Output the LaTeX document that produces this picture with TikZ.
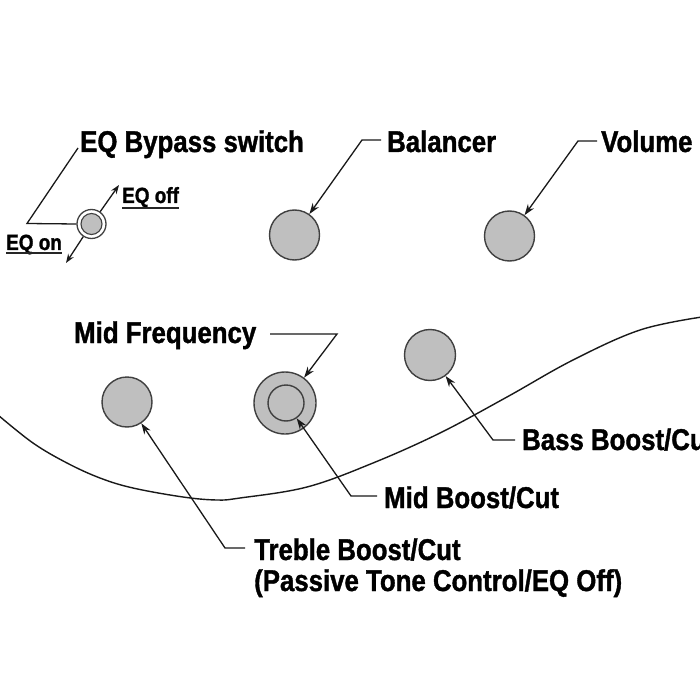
\documentclass[tikz,border=0pt]{standalone}
\usepackage{fontspec}
\setmainfont[FakeStretch=0.86,BoldFeatures={FakeBold=1.2}]{Liberation Sans}
\usetikzlibrary{arrows.meta}
\begin{document}
\begin{tikzpicture}[x=1pt,y=-1pt,
  lbl/.style={font=\bfseries\fontsize{30}{31}\selectfont,anchor=base west,inner sep=0pt,align=left},
  slbl/.style={font=\bfseries\fontsize{22}{24}\selectfont,anchor=base west,inner sep=0pt},
  knob/.style={circle,draw=black!75,line width=1.4pt,fill=black!25,inner sep=0pt},
  lead/.style={line width=1.3pt,draw=black!90},
  arr/.style={lead,-{Stealth[length=11pt,width=7.5pt]}},
  sarr/.style={lead,-{Stealth[length=9pt,width=6.5pt]}},
  uline/.style={line width=1.8pt,draw=black!85}]
\useasboundingbox (0,0) rectangle (700,700);
\fill[white] (0,0) rectangle (700,700);
% body outline
\draw[line width=1.4pt,black!90] plot[smooth,tension=0.6] coordinates {(-2,415) (33,443) (67,463) (100,478) (133,488) (183,497) (217,500) (240,498) (307,487) (373,463) (440,433) (507,397) (573,360) (640,330) (702,317)};
% knobs
\node[circle,draw=black!75,line width=1.3pt,fill=white,minimum size=29pt,inner sep=0pt] (eq) at (91.5,224) {};
\node[knob,minimum size=21pt,line width=1.1pt] (eqin) at (91.5,224) {};
\node[knob,minimum size=50pt] (bal) at (294.5,235) {};
\node[knob,minimum size=50pt] (vol) at (509.5,236) {};
\node[knob,minimum size=50pt] (tre) at (127,402) {};
\node[knob,minimum size=62pt] (mf) at (285,403) {};
\node[knob,minimum size=36pt] (mb) at (286,403) {};
\node[knob,minimum size=51pt] (bass) at (430,355) {};
% labels
\node[lbl] (teq) at (80,152) {EQ Bypass switch};
\node[lbl] (tbal) at (387,152) {Balancer};
\node[lbl] (tvol) at (601,152) {Volume};
\node[lbl] (tmf) at (74,343) {Mid Frequency};
\node[lbl] (tbass) at (522,450) {Bass Boost/Cut};
\node[lbl] (tmb) at (384,508) {Mid Boost/Cut};
\node[lbl] (ttre) at (254,560) {Treble Boost/Cut};
\node[lbl] (tpas) at (254,591) {(Passive Tone Control/EQ Off)};
\node[slbl] (toff) at (122,203) {EQ off};
\node[slbl] (ton) at (6,250) {EQ on};
\draw[uline] ([yshift=-5pt]toff.base west) -- ([yshift=-5pt]toff.base east);
\draw[uline] ([yshift=-3pt]ton.base west) -- ([yshift=-3pt]ton.base east);
% leader coordinates
\coordinate (ceq1) at (78,148);
\coordinate (ceq2) at (27,223.5);
\coordinate (cbal1) at (381,140);
\coordinate (cbal2) at (362,140);
\coordinate (cvol1) at (597,141);
\coordinate (cvol2) at (578,141);
\coordinate (cmf1) at (270,334);
\coordinate (cmf2) at (337,334);
\coordinate (cbass1) at (515,440);
\coordinate (cbass2) at (493,440);
\coordinate (cmb1) at (377,496);
\coordinate (cmb2) at (351,496);
\coordinate (ctre1) at (245,548);
\coordinate (ctre2) at (225,548);
\coordinate (offtip) at (119,185);
\coordinate (ontip) at (66,263);
% leaders
\draw[lead] (ceq1) -- (ceq2) -- (eq.west);
\draw[sarr] (eq) -- (offtip);
\draw[sarr] (eq) -- (ontip);
\draw[arr] (cbal1) -- (cbal2) -- (bal);
\draw[arr] (cvol1) -- (cvol2) -- (vol);
\draw[arr] (cmf1) -- (cmf2) -- (mf);
\draw[arr] (cbass1) -- (cbass2) -- (bass);
\draw[arr] (cmb1) -- (cmb2) -- (mb);
\draw[arr] (ctre1) -- (ctre2) -- (tre);
\end{tikzpicture}
\end{document}
